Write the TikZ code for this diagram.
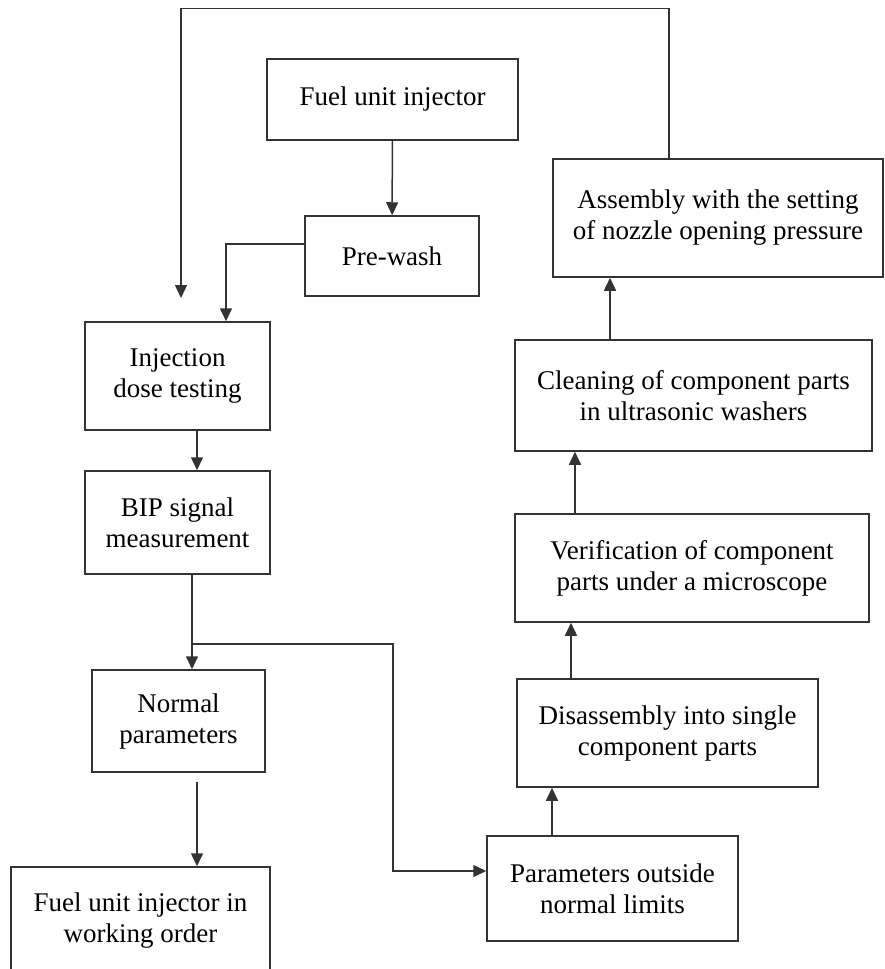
\documentclass[tikz,border=0pt]{standalone}
\usepackage{fontspec}
\setmainfont{Liberation Serif}
\usetikzlibrary{arrows.meta,calc}
\tikzset{
procbox/.style={
  rectangle,
  draw=black!80,
  line width=0.75pt,
  inner sep=0pt,
  align=center,
  font=\fontsize{13.5pt}{15.5pt}\selectfont,
  }
}
\tikzset{
flowline/.style={
  draw=black!80,
  line width=0.75pt,
  -{Triangle[length=6.5pt,width=6pt]}
  }
}

\begin{document}
\begin{tikzpicture}[x=0.5pt,y=-0.5pt]
    \useasboundingbox (0,0) rectangle (884,969);

    % upper part
    \node[procbox, minimum width=125.5pt, minimum height=40.5pt] (fuel) at (392.5,99.5) {Fuel unit injector};
    \node[procbox, minimum width=87pt, minimum height=40pt] (prewash) at (392,256) {Pre-wash};

    % left column
    \node[procbox, minimum width=92.5pt, minimum height=54pt] (inj) at (177.5,376) {Injection\\dose testing};
    \node[procbox, minimum width=92.5pt, minimum height=51.5pt] (bip) at (177.5,522.5) {BIP signal\\measurement};
    \node[procbox, minimum width=86.5pt, minimum height=51pt] (normal) at (178.5,721) {Normal\\parameters};
    \node[procbox, minimum width=129.5pt, minimum height=54pt] (work) at (140.5,921) {Fuel unit injector in\\working order};

    % right column
    \node[procbox, minimum width=125.5pt, minimum height=52.5pt] (params) at (612.5,888.5) {Parameters outside\\normal limits};
    \node[procbox, minimum width=150.5pt, minimum height=54pt] (disasm) at (667.5,733) {Disassembly into single\\component parts};
    \node[procbox, minimum width=177pt, minimum height=54pt] (verif) at (692,568) {Verification of component\\parts under a microscope};
    \node[procbox, minimum width=178.5pt, minimum height=55.5pt] (clean) at (693.5,395.5) {Cleaning of component parts\\in ultrasonic washers};
    \node[procbox, minimum width=165pt, minimum height=59pt] (assembly) at (718,218) {Assembly with the setting\\of nozzle opening pressure};

    % helper points
    \coordinate (loopend) at (181,298);
    \coordinate (split) at ($(bip.south)+(14.5,69)$);

    % left edges
    \draw[flowline] (fuel) -- (prewash);
    \draw[flowline] ($(prewash.west)+(0,-12)$) -| ($(inj.north)+(48.5,0)$);
    \draw[flowline] ($(inj.south)+(19.5,0)$) -- ($(bip.north)+(19.5,0)$);
    \draw[flowline] ($(bip.south)+(14.5,0)$) -- ($(normal.north)+(13.5,0)$);
    \draw[flowline] ($(normal.south)+(18.5,9)$) -- ($(work.north)+(56.5,0)$);

    % branch to the right
    \draw[flowline] (split) -- ++(201,0) |- ($(params.west)+(0,-17.5)$);

    % right edges
    \draw[flowline] ($(params.north)+(-60.5,0)$) -- ($(disasm.south)+(-115.5,0)$);
    \draw[flowline] ($(disasm.north)+(-96.5,0)$) -- ($(verif.south)+(-121,0)$);
    \draw[flowline] ($(verif.north)+(-117,0)$) -- ($(clean.south)+(-118.5,0)$);
    \draw[flowline] ($(clean.north)+(-83.5,0)$) -- ($(assembly.south)+(-108,0)$);

    % return loop
    \draw[flowline] ($(assembly.north)+(-49,0)$) -- ++(0,-150) -| (loopend);
\end{tikzpicture}
\end{document}
